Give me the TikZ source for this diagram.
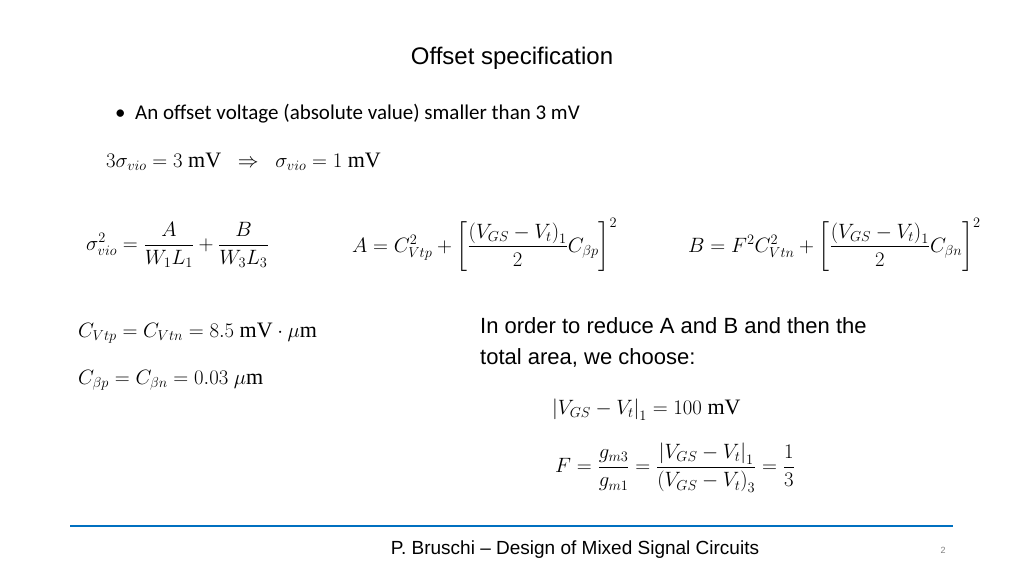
\documentclass[tikz,border=0pt]{standalone}
\usepackage{fontspec}
\setmainfont{Liberation Serif}
\newfontfamily\slidefont{Liberation Sans}
\newfontfamily\bodyfont{Carlito}
\usepackage{amsmath}
\definecolor{ruleblue}{RGB}{0,112,192}
\tikzset{
	eqn/.style={anchor=west, inner sep=0pt, font=\fontsize{22}{26}\selectfont},
	slidetext/.style={anchor=west, inner sep=0pt, align=left}
}
\begin{document}
\begin{tikzpicture}[x=1pt, y=-1pt]
	\useasboundingbox (0,0) rectangle (1024,576);

	\node[font=\slidefont\fontsize{24}{28}\selectfont] (title) at (512,58) {Offset specification};
	\node[slidetext, font=\bodyfont\fontsize{21}{25}\selectfont] (bullet) at (115,114) {\textbullet\ \ An offset voltage (absolute value) smaller than 3 mV};

	\node[eqn] (spec) at (106,162) {$3\sigma_{vio}=3\ \mathrm{mV}\ \ \Rightarrow\ \ \sigma_{vio}=1\ \mathrm{mV}$};
	\node[eqn] (sigma) at (86,245) {$\sigma^2_{vio}=\dfrac{A}{W_1L_1}+\dfrac{B}{W_3L_3}$};
	\node[eqn] (eqA) at (352,245) {$A=C^2_{Vtp}+\left[\dfrac{\left(V_{GS}-V_t\right)_1}{2}C_{\beta p}\right]^2$};
	\node[eqn] (eqB) at (688,245) {$B=F^2C^2_{Vtn}+\left[\dfrac{\left(V_{GS}-V_t\right)_1}{2}C_{\beta n}\right]^2$};

	\node[eqn] (cvt) at (78,333) {$C_{Vtp}=C_{Vtn}=8.5\ \mathrm{mV}\cdot\mu\mathrm{m}$};
	\node[eqn] (cbeta) at (78,380) {$C_{\beta p}=C_{\beta n}=0.03\ \mu\mathrm{m}$};

	\node[slidetext, font=\slidefont\fontsize{22}{31}\selectfont] (choose) at (480,342) {In order to reduce A and B and then the\\total area, we choose:};

	\node[eqn] (vov) at (552,410) {$\left|V_{GS}-V_t\right|_1=100\ \mathrm{mV}$};
	\node[eqn] (ratio) at (555,468) {$F=\dfrac{g_{m3}}{g_{m1}}=\dfrac{\left|V_{GS}-V_t\right|_1}{\left(V_{GS}-V_t\right)_3}=\dfrac{1}{3}$};

	\draw[ruleblue, line width=2pt] (70,526) coordinate (ruleL) -- (953,526) coordinate (ruleR);
	\node[font=\slidefont\fontsize{19}{23}\selectfont] (footer) at (575,550) {P. Bruschi \textendash{} Design of Mixed Signal Circuits};
	\node[font=\slidefont\fontsize{9}{11}\selectfont, gray] (page) at (943,550) {2};
\end{tikzpicture}
\end{document}
